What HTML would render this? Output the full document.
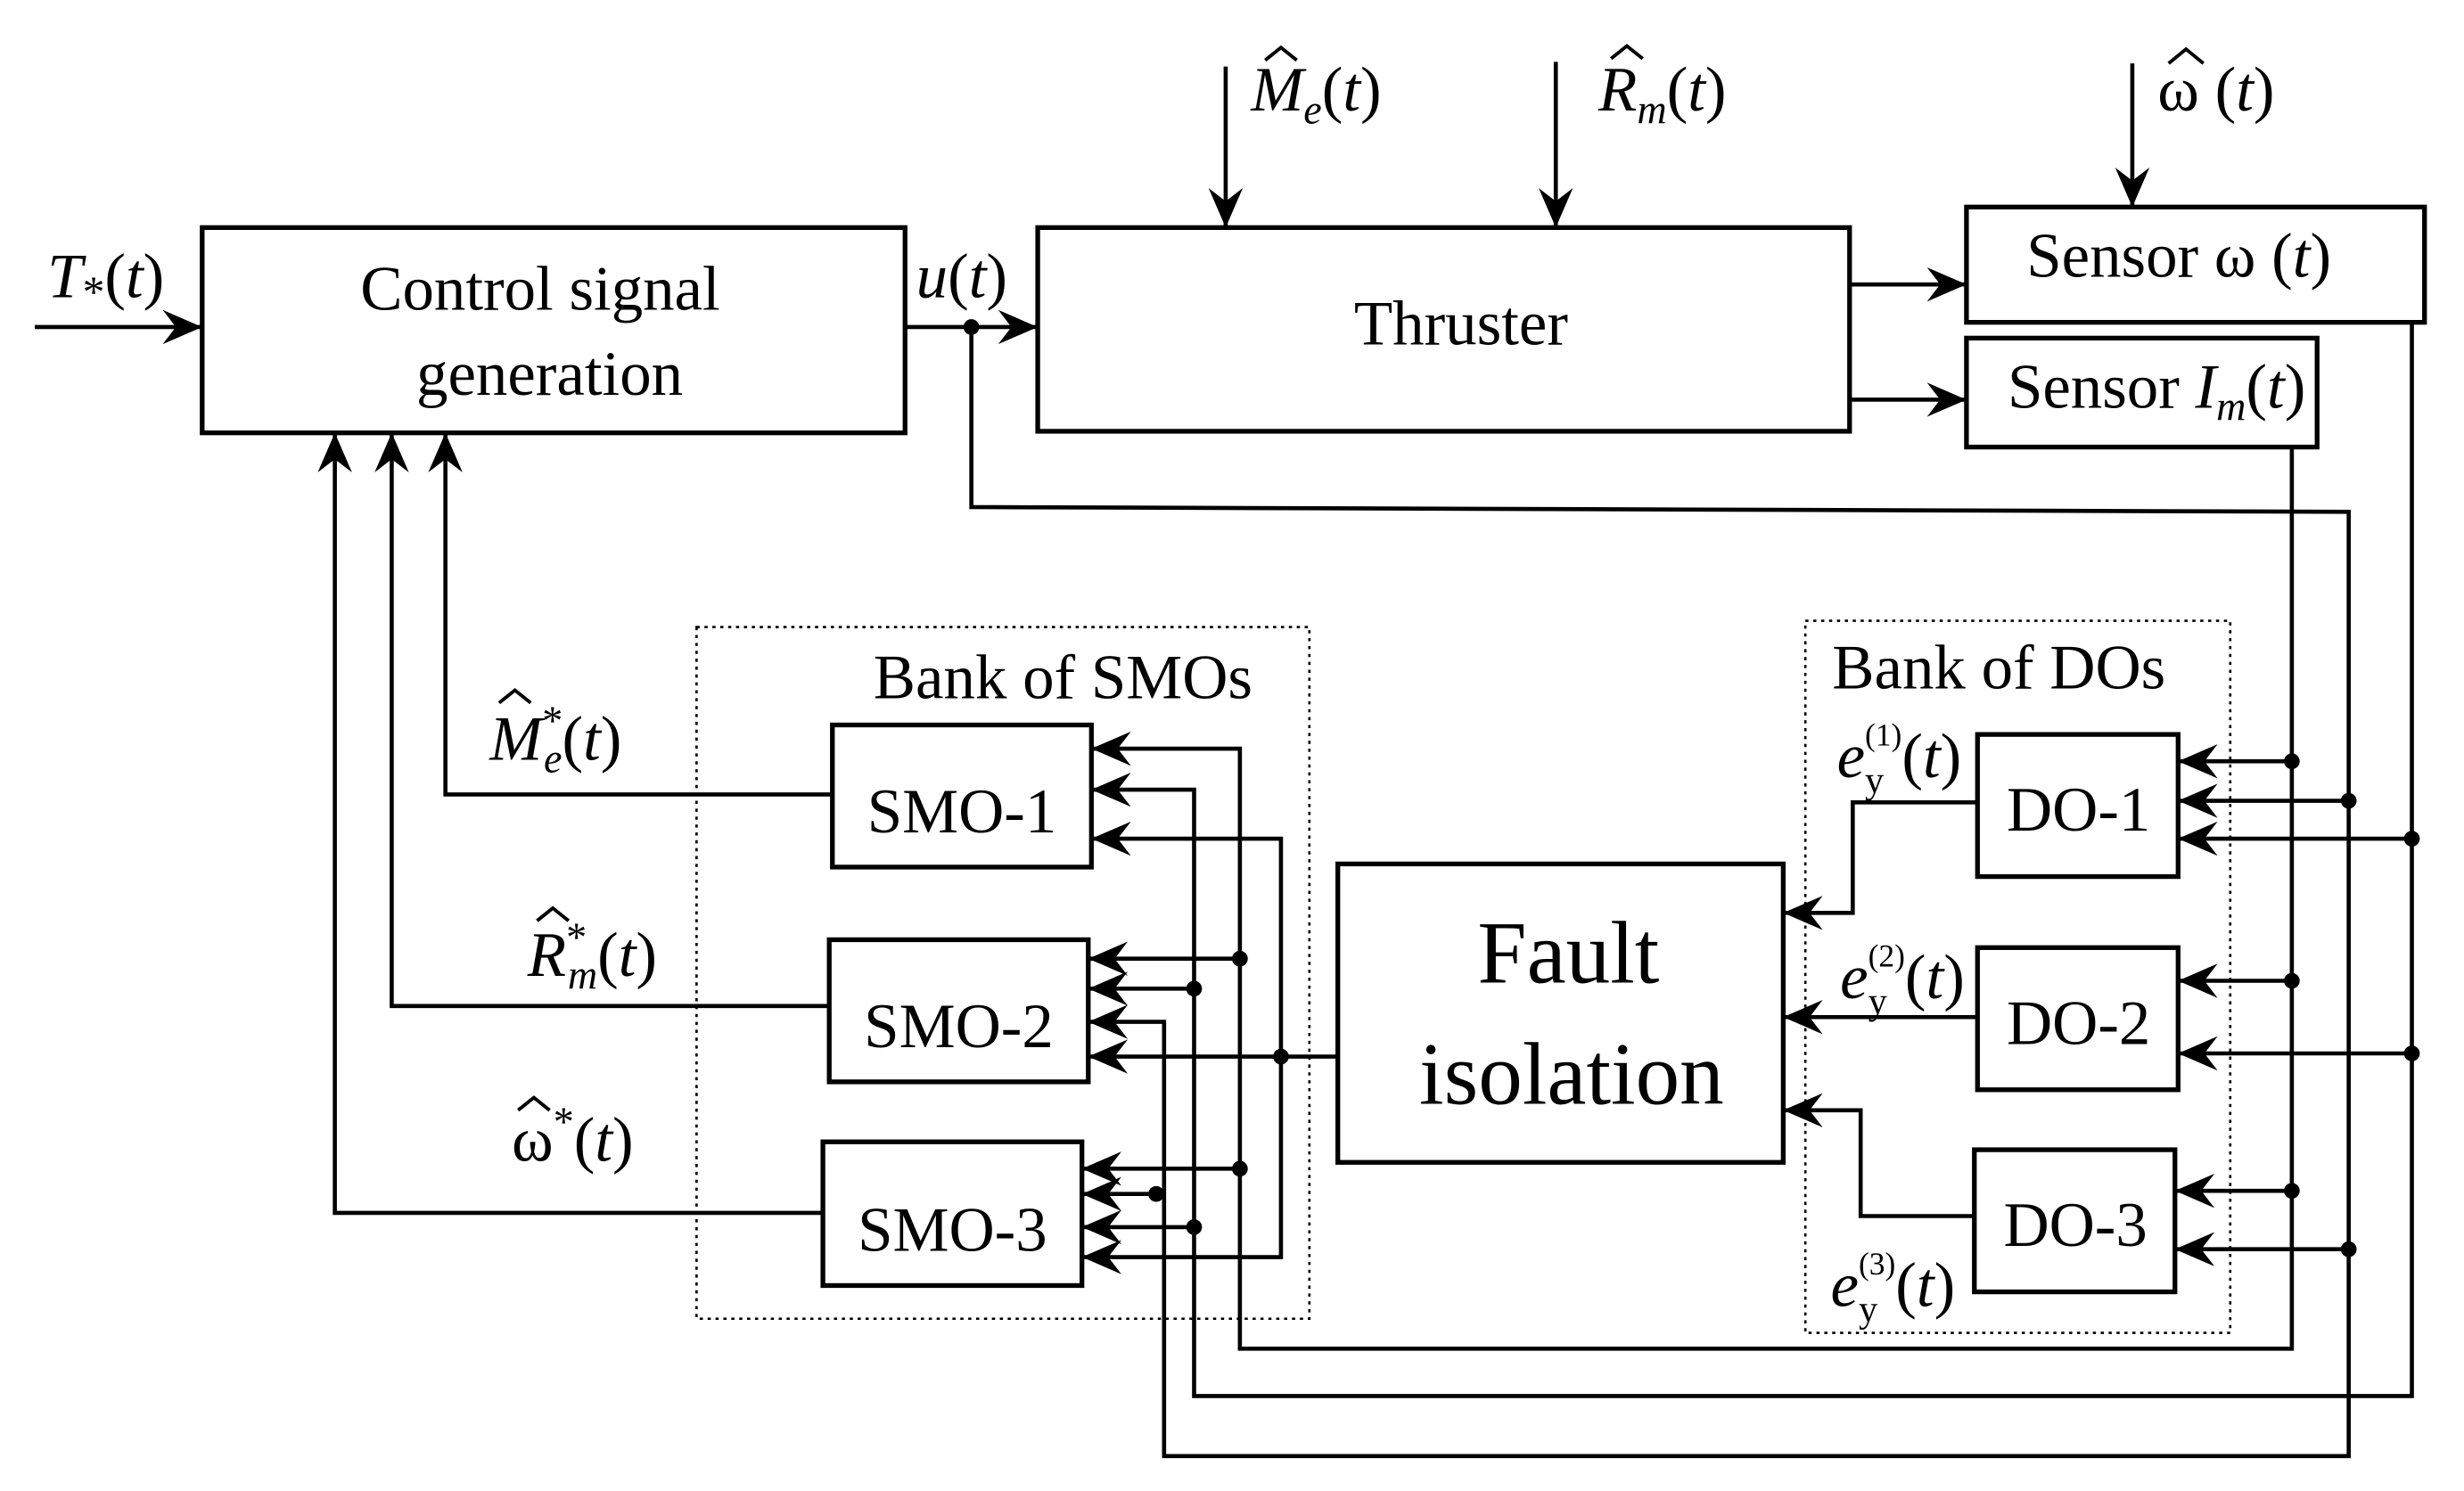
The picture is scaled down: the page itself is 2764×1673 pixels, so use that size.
<!DOCTYPE html>
<html><head><meta charset="utf-8"><style>
html,body{margin:0;padding:0;background:#fff;}
svg{display:block;}
text{font-family:"Liberation Serif",serif;fill:#000;}
.i{font-style:italic;}
</style></head><body>
<svg width="2764" height="1673" viewBox="0 0 1560 944" xmlns="http://www.w3.org/2000/svg">
<defs>
<marker id="a" markerUnits="userSpaceOnUse" markerWidth="30" markerHeight="30" viewBox="-16 -8 18 16" refX="0" refY="0" orient="auto">
<path d="M0,0 L-15,-6.5 L-10,0 L-15,6.5 Z" fill="#000"/>
</marker>
</defs>
<g fill="none" stroke="#000" stroke-width="2.6">
<rect x="128" y="144" width="445" height="130" stroke-width="3"/>
<rect x="657" y="144" width="514" height="129" stroke-width="3"/>
<rect x="1245" y="131" width="290" height="73" stroke-width="3"/>
<rect x="1245" y="214" width="222" height="69" stroke-width="3"/>
<rect x="527" y="459" width="164" height="90" stroke-width="3"/>
<rect x="525" y="595" width="164" height="90" stroke-width="3"/>
<rect x="521" y="723" width="164" height="91" stroke-width="3"/>
<rect x="847" y="547" width="282" height="189" stroke-width="3"/>
<rect x="1252" y="465" width="127" height="90" stroke-width="3"/>
<rect x="1252" y="600" width="127" height="90" stroke-width="3"/>
<rect x="1250" y="728" width="127" height="90" stroke-width="3"/>
<rect x="441" y="397" width="388" height="438" stroke-width="1.5" stroke-dasharray="2,3"/>
<rect x="1143" y="393" width="269" height="451" stroke-width="1.5" stroke-dasharray="2,3"/>
<line x1="22" y1="207" x2="128" y2="207" marker-end="url(#a)"/>
<line x1="573" y1="207" x2="657" y2="207" marker-end="url(#a)"/>
<line x1="776" y1="42" x2="776" y2="144" marker-end="url(#a)"/>
<line x1="985" y1="39" x2="985" y2="144" marker-end="url(#a)"/>
<line x1="1350" y1="40" x2="1350" y2="131" marker-end="url(#a)"/>
<line x1="1171" y1="180" x2="1245" y2="180" marker-end="url(#a)"/>
<line x1="1171" y1="253" x2="1245" y2="253" marker-end="url(#a)"/>
<polyline points="615,207 615,321 1487,324 1487,922 737,922 737,647 689,647" marker-end="url(#a)"/>
<polyline points="1451,283 1451,854 785,854 785,474 691,474" marker-end="url(#a)"/>
<polyline points="1527,204 1527,884 756,884 756,500 691,500" marker-end="url(#a)"/>
<polyline points="847,669 811,669 811,531 691,531" marker-end="url(#a)"/>
<line x1="811" y1="669" x2="689" y2="669" marker-end="url(#a)"/>
<polyline points="811,669 811,796 685,796" marker-end="url(#a)"/>
<line x1="785" y1="607" x2="689" y2="607" marker-end="url(#a)"/>
<line x1="756" y1="626" x2="689" y2="626" marker-end="url(#a)"/>
<line x1="785" y1="740" x2="685" y2="740" marker-end="url(#a)"/>
<line x1="732" y1="756" x2="685" y2="756" marker-end="url(#a)"/>
<line x1="756" y1="777" x2="685" y2="777" marker-end="url(#a)"/>
<line x1="1451" y1="482" x2="1379" y2="482" marker-end="url(#a)"/>
<line x1="1487" y1="507" x2="1379" y2="507" marker-end="url(#a)"/>
<line x1="1527" y1="531" x2="1379" y2="531" marker-end="url(#a)"/>
<line x1="1451" y1="621" x2="1379" y2="621" marker-end="url(#a)"/>
<line x1="1527" y1="667" x2="1379" y2="667" marker-end="url(#a)"/>
<line x1="1451" y1="754" x2="1377" y2="754" marker-end="url(#a)"/>
<line x1="1487" y1="791" x2="1377" y2="791" marker-end="url(#a)"/>
<polyline points="1252,508 1173,508 1173,578 1129,578" marker-end="url(#a)"/>
<line x1="1252" y1="644" x2="1129" y2="644" marker-end="url(#a)"/>
<polyline points="1250,770 1178,770 1178,703 1129,703" marker-end="url(#a)"/>
<polyline points="527,503 282,503 282,274" marker-end="url(#a)"/>
<polyline points="525,637 248,637 248,274" marker-end="url(#a)"/>
<polyline points="521,768 212,768 212,274" marker-end="url(#a)"/>
</g>
<g fill="#000">
<circle cx="615" cy="207" r="5"/>
<circle cx="785" cy="607" r="5"/><circle cx="756" cy="626" r="5"/><circle cx="811" cy="669" r="5"/>
<circle cx="785" cy="740" r="5"/><circle cx="732" cy="756" r="5"/><circle cx="756" cy="777" r="5"/>
<circle cx="1451" cy="482" r="5"/><circle cx="1487" cy="507" r="5"/><circle cx="1527" cy="531" r="5"/>
<circle cx="1451" cy="621" r="5"/><circle cx="1527" cy="667" r="5"/>
<circle cx="1451" cy="754" r="5"/><circle cx="1487" cy="791" r="5"/>
</g>
<g fill="none" stroke="#000" stroke-width="2.2">
<polyline points="801,38 811,30 821,38"/>
<polyline points="1020,37 1030,29 1040,37"/>
<polyline points="1373,40 1384,31 1395,40"/>
<polyline points="316,445 326,437 336,445"/>
<polyline points="340,583 350,575 360,583"/>
<polyline points="328,703 338,695 348,703"/>
</g>
<g font-size="40">
<text x="30" y="188" class="i">T<tspan font-style="normal" font-size="28" dy="6">*</tspan><tspan font-style="normal" dy="-6">(</tspan>t<tspan font-style="normal">)</tspan></text>
<text x="580" y="188" class="i">u<tspan font-style="normal">(</tspan>t<tspan font-style="normal">)</tspan></text>
<text x="342" y="196" text-anchor="middle">Control signal</text>
<text x="348" y="250" text-anchor="middle">generation</text>
<text x="925" y="218" text-anchor="middle">Thruster</text>
<text x="1283" y="175">Sensor  ω (<tspan class="i">t</tspan>)</text>
<text x="1271" y="258">Sensor <tspan class="i">I</tspan><tspan class="i" font-size="26" dy="8">m</tspan><tspan dy="-8">(</tspan><tspan class="i">t</tspan>)</text>
<text x="792" y="70" class="i">M<tspan font-size="26" dy="8">e</tspan><tspan font-style="normal" dy="-8">(</tspan>t<tspan font-style="normal">)</tspan></text>
<text x="1012" y="70" class="i">R<tspan font-size="26" dy="8">m</tspan><tspan font-style="normal" dy="-8">(</tspan>t<tspan font-style="normal">)</tspan></text>
<text x="1366" y="70">ω (<tspan class="i">t</tspan>)</text>
<text x="553" y="442">Bank of SMOs</text>
<text x="1160" y="436">Bank of DOs</text>
<text x="609" y="527" text-anchor="middle">SMO-1</text>
<text x="607" y="663" text-anchor="middle">SMO-2</text>
<text x="603" y="792" text-anchor="middle">SMO-3</text>
<text x="1316" y="526" text-anchor="middle">DO-1</text>
<text x="1316" y="661" text-anchor="middle">DO-2</text>
<text x="1314" y="789" text-anchor="middle">DO-3</text>
<text x="310" y="481" class="i">M<tspan font-size="26" dy="-16" font-style="normal">*</tspan><tspan font-size="26" dx="-12" dy="24">e</tspan><tspan font-style="normal" dy="-8">(</tspan>t<tspan font-style="normal">)</tspan></text>
<text x="334" y="618" class="i">R<tspan font-size="26" dy="-16" font-style="normal">*</tspan><tspan font-size="26" dx="-12" dy="24">m</tspan><tspan font-style="normal" dy="-8">(</tspan>t<tspan font-style="normal">)</tspan></text>
<text x="324" y="735">ω<tspan font-size="26" dy="-16">*</tspan><tspan dy="16">(</tspan><tspan class="i">t</tspan>)</text>
<text x="1163" y="492" class="i">e<tspan font-size="24" font-style="normal" dy="10">y</tspan><tspan font-size="20" font-style="normal" dx="-12" dy="-30">(1)</tspan><tspan font-style="normal" dy="20">(</tspan>t<tspan font-style="normal">)</tspan></text>
<text x="1165" y="632" class="i">e<tspan font-size="24" font-style="normal" dy="10">y</tspan><tspan font-size="20" font-style="normal" dx="-12" dy="-30">(2)</tspan><tspan font-style="normal" dy="20">(</tspan>t<tspan font-style="normal">)</tspan></text>
<text x="1159" y="827" class="i">e<tspan font-size="24" font-style="normal" dy="10">y</tspan><tspan font-size="20" font-style="normal" dx="-12" dy="-30">(3)</tspan><tspan font-style="normal" dy="20">(</tspan>t<tspan font-style="normal">)</tspan></text>
</g>
<text x="993" y="622" text-anchor="middle" font-size="56">Fault</text>
<text x="995" y="699" text-anchor="middle" font-size="56">isolation</text>
</svg>
</body></html>
